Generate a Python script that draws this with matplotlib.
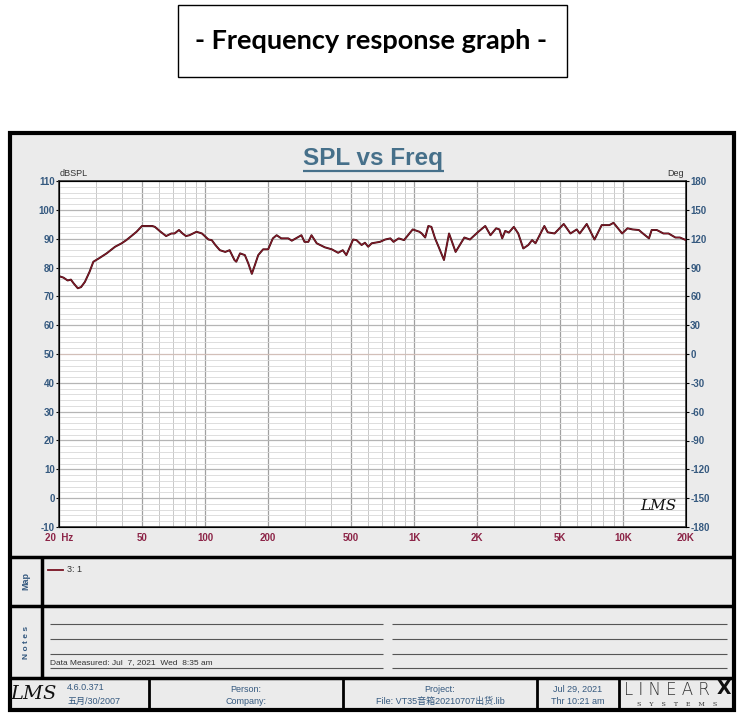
import matplotlib
matplotlib.use("Agg")
import matplotlib.pyplot as plt
from matplotlib import font_manager
from matplotlib.patches import Rectangle
from matplotlib.ticker import FixedLocator, NullFormatter
import numpy as np

plt.rcParams["axes.unicode_minus"] = False

# measured curve (Hz, dBSPL)
freq = [20, 21, 22, 22.8, 23.5, 24.6, 25.5, 26.6, 28, 29.2, 31.1, 33.8, 37.1,
        39.9, 42, 44.9, 47, 49.9, 55.9, 57.5, 61, 65.1, 69, 71.4, 75, 78, 81,
        84.2, 91, 96.6, 103.8, 107.6, 112, 117.7, 124.9, 131, 138.2, 141, 147,
        155, 161, 167.4, 173, 179.6, 189.5, 200.4, 211, 220, 231.5, 250, 260,
        289, 299, 312, 323, 342, 374, 404, 433, 456, 474, 511, 530, 561, 582,
        603, 627, 687, 727, 770, 797, 844, 895, 985, 1060, 1088, 1130, 1170,
        1210, 1260, 1310, 1390, 1470, 1580, 1740, 1850, 2030, 2190, 2320,
        2470, 2560, 2640, 2730, 2840, 3000, 3150, 3330, 3520, 3670, 3810,
        4200, 4360, 4700, 5200, 5600, 6000, 6200, 6700, 7300, 7900, 8600,
        9000, 9900, 10500, 11100, 11900, 12300, 13300, 13700, 14500, 15600,
        16500, 17800, 18700, 20000]
spl = [77, 76.5, 75.5, 75.8, 74.5, 72.8, 73.2, 75, 78.5, 82, 83.2, 84.9, 87.2,
       88.4, 89.5, 91.2, 92.4, 94.4, 94.4, 94.1, 92.5, 90.9, 91.8, 91.8, 93,
       91.8, 90.9, 91.2, 92.4, 91.8, 89.7, 89.5, 87.8, 86, 85.4, 86, 82.6, 82,
       84.9, 84.3, 81.4, 77.8, 80.8, 84.3, 86.3, 86.3, 90.1, 91.2, 90.1, 90.1,
       89.3, 91.2, 88.9, 88.9, 91.2, 88.4, 87, 86.3, 85.1, 86, 84.3, 89.7,
       89.5, 87.8, 88.6, 87.2, 88.4, 88.9, 89.7, 90.1, 88.9, 90.1, 89.5, 93.2,
       92.4, 91.8, 90.4, 94.4, 94.1, 90.1, 87.2, 82.6, 91.8, 85.4, 90.4, 89.7,
       92.4, 94.4, 91.2, 93.6, 93.2, 90.1, 92.7, 92.1, 94.1, 91.8, 86.6, 87.8,
       89.5, 88.4, 94.4, 92.2, 91.8, 95.1, 91.8, 93.2, 91.8, 95.1, 89.7, 94.7,
       94.7, 95.5, 91.8, 93.6, 93.2, 93, 92.1, 90.1, 93, 93, 91.8, 91.8, 90.4,
       90.4, 89.5]

x_ticks = [20, 50, 100, 200, 500, 1000, 2000, 5000, 10000, 20000]
x_labels = ["20  Hz", "50", "100", "200", "500", "1K", "2K", "5K", "10K", "20K"]
db_ticks = list(range(-10, 111, 10))
deg_ticks = list(range(-180, 181, 30))

W, H = 742, 721


def pick(name, fallback="Liberation Sans"):
    try:
        font_manager.findfont(name, fallback_to_default=False)
        return name
    except Exception:
        return fallback


NARROW = pick("Liberation Sans Narrow")
BLUE = "#35597f"
MAROON = "#8c2447"
PANEL = "#ebebeb"

fig = plt.figure(figsize=(W / 100, H / 100), dpi=100)
fig.patch.set_facecolor("white")

# overlay in pixel coordinates for boxes and labels
ov = fig.add_axes([0, 0, 1, 1])
ov.set_xlim(0, W)
ov.set_ylim(H, 0)
ov.axis("off")


def rect(x0, y0, x1, y1, lw=1.0, fc="none", ec="black", z=1):
    ov.add_patch(Rectangle((x0, y0), x1 - x0, y1 - y0, lw=lw, fc=fc, ec=ec, zorder=z))


def hline(y, x0, x1, lw=2.5, c="black", z=3):
    ov.plot([x0, x1], [y, y], color=c, lw=lw, zorder=z, solid_capstyle="butt")


def vline(x, y0, y1, lw=2.5, c="black", z=3):
    ov.plot([x, x], [y0, y1], color=c, lw=lw, zorder=z, solid_capstyle="butt")


# title box at top
rect(178, 5, 567, 77, lw=1.0)
ov.text(371, 41, "- Frequency response graph -", ha="center", va="center",
        fontsize=19.5, fontweight="bold", family="Lato")

# main panel with sections
rect(10, 133, 734, 710, lw=3.0, fc=PANEL, z=2)
hline(557, 10, 734)
hline(606, 10, 734)
hline(678, 10, 734)
vline(41.5, 557, 678)
for xd in [149, 343, 537, 619]:
    vline(xd, 678, 710, lw=2.0)

# chart title
ov.text(373, 159, "SPL vs Freq", ha="center", va="center", fontsize=17.5,
        fontweight="bold", color="#46708a", family="Liberation Sans", zorder=5)
hline(171, 303, 444, lw=1.6, c="#46708a", z=5)
ov.text(60, 174, "dBSPL", ha="left", va="center", fontsize=6.5, color="#333333",
        family="Liberation Sans", zorder=5)
ov.text(684, 174, "Deg", ha="right", va="center", fontsize=6.5, color="#333333",
        family="Liberation Sans", zorder=5)

# map legend
ov.plot([48, 63], [570, 570], color="#7a1222", lw=1.3, zorder=5)
ov.text(67, 570, "3: 1", ha="left", va="center", fontsize=6.5, color="#333333",
        family="Liberation Sans", zorder=5)
ov.text(26, 581, "Map", rotation=90, ha="center", va="center", fontsize=6.5,
        fontweight="bold", color=BLUE, family="Liberation Sans", zorder=5)
ov.text(26, 642, "N o t e s", rotation=90, ha="center", va="center", fontsize=6,
        fontweight="bold", color=BLUE, family="Liberation Sans", zorder=5)

# notes lines
for yl in [624, 639, 654, 668]:
    hline(yl, 50, 383, lw=0.8, c="#555555", z=4)
    hline(yl, 392, 727, lw=0.8, c="#555555", z=4)
ov.text(50, 666, "Data Measured: Jul  7, 2021  Wed  8:35 am", ha="left", va="bottom",
        fontsize=6, color="#333333", family=NARROW, zorder=5)

# footer
ov.text(33, 694, "LMS", ha="center", va="center", fontsize=14, style="italic",
        family="DejaVu Serif", color="#111111", zorder=5)
ov.text(67, 688, "4.6.0.371", ha="left", va="center", fontsize=6.5, color=BLUE,
        family=[NARROW, "Noto Sans CJK SC"], zorder=5)
ov.text(67, 701, "五月/30/2007", ha="left", va="center", fontsize=6.5, color=BLUE,
        family=[NARROW, "Noto Sans CJK SC"], zorder=5)
ov.text(246, 689, "Person:", ha="center", va="center", fontsize=6.5, color=BLUE,
        family=NARROW, zorder=5)
ov.text(246, 701, "Company:", ha="center", va="center", fontsize=6.5, color=BLUE,
        family=NARROW, zorder=5)
ov.text(440, 689, "Project:", ha="center", va="center", fontsize=6.5, color=BLUE,
        family=NARROW, zorder=5)
ov.text(440, 701, "File: VT35音箱20210707出货.lib", ha="center", va="center",
        fontsize=6.5, color=BLUE, family=[NARROW, "Noto Sans CJK SC"], zorder=5)
ov.text(578, 689, "Jul 29, 2021", ha="center", va="center", fontsize=6.5,
        color=BLUE, family=NARROW, zorder=5)
ov.text(578, 701, "Thr 10:21 am", ha="center", va="center", fontsize=6.5,
        color=BLUE, family=NARROW, zorder=5)
ov.text(667, 690, "L I N E A R", ha="center", va="center", fontsize=12,
        family="DejaVu Sans", fontweight="light", color="#333333", zorder=5)
ov.text(724, 689, "X", ha="center", va="center", fontsize=13.5, fontweight="bold",
        family="DejaVu Sans", color="#111111", zorder=5)
ov.text(677, 704, "S    Y    S    T    E    M    S", ha="center", va="center",
        fontsize=4.5, family="DejaVu Serif", color="#333333", zorder=5)

# frequency response plot
ax = fig.add_axes([59 / W, (H - 527) / H, 627 / W, 346 / H])
ax.set_facecolor("white")
ax.set_xscale("log")
ax.set_xlim(20, 20000)
ax.set_ylim(-10, 110)

minor_f = [m * d for d in (10, 100, 1000, 10000) for m in range(1, 10)]
minor_f = [f for f in minor_f if 20 <= f <= 20000]
major_f = [f for f in minor_f if str(int(f))[0] in "125"]
for f in minor_f:
    if f not in major_f:
        ax.axvline(f, color="#c8c8c8", lw=0.7, zorder=0)
for f in major_f:
    ax.axvline(f, color="#a0a0a0", lw=0.9, zorder=0)
for v in np.arange(-10, 110.1, 2):
    ax.axhline(v, color="#d8d8d8", lw=0.6, zorder=0)
for v in db_ticks:
    c = "#d2bfb8" if v == 50 else "#b5b5b5"
    ax.axhline(v, color=c, lw=0.9, zorder=0)

ax.plot(freq, spl, color="#3a0a10", lw=1.4, zorder=3)
ax.plot(freq, spl, color="#8a1a2a", lw=0.7, zorder=4)

ax.xaxis.set_major_locator(FixedLocator(x_ticks))
ax.xaxis.set_minor_locator(FixedLocator([]))
ax.xaxis.set_minor_formatter(NullFormatter())
ax.set_xticklabels(x_labels)
ax.tick_params(axis="x", length=0, pad=4, labelsize=7, labelcolor=MAROON)
ax.set_yticks(db_ticks)
ax.tick_params(axis="y", length=2, pad=1, labelsize=7, labelcolor=BLUE)
for lab in ax.get_xticklabels() + ax.get_yticklabels():
    lab.set_family(NARROW)
    lab.set_fontweight("bold")
for sp in ax.spines.values():
    sp.set_color("#333333")
    sp.set_linewidth(1.2)

ax2 = ax.twinx()
ax2.set_ylim(-180, 180)
ax2.set_yticks(deg_ticks)
ax2.tick_params(axis="y", length=2, pad=1, labelsize=7, labelcolor=BLUE)
for lab in ax2.get_yticklabels():
    lab.set_family(NARROW)
    lab.set_fontweight("bold")
ax2.text(0.985, 0.04, "LMS", transform=ax2.transAxes, ha="right", va="bottom",
         fontsize=11, style="italic", family="DejaVu Serif", color="#111111")

fig.savefig("out.png", dpi=100)
